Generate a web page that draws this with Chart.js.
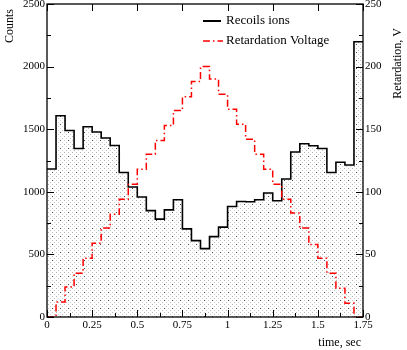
<!DOCTYPE html>
<html>
<head>
<meta charset="utf-8">
<script src="https://cdn.jsdelivr.net/npm/chart.js@4"></script>
<style>
html, body { margin: 0; padding: 0; background: #fff; }
#wrap { width: 407px; height: 350px; }
</style>
</head>
<body>
<div id="wrap"><canvas id="chart"></canvas></div>
<script>
// bin edges (sec), 0.05 s bins
const binEdges = [0, 0.05, 0.1, 0.15, 0.2, 0.25, 0.3, 0.35, 0.4, 0.45, 0.5, 0.55, 0.6, 0.65, 0.7,
  0.75, 0.8, 0.85, 0.9, 0.95, 1, 1.05, 1.1, 1.15, 1.2, 1.25, 1.3, 1.35, 1.4, 1.45, 1.5, 1.55,
  1.6, 1.65, 1.7, 1.75];
// one value per bin
const recoilCounts = [1182, 1608, 1490, 1346, 1520, 1478, 1430, 1370, 1154, 1038, 958, 850, 782,
  856, 936, 704, 610, 546, 642, 718, 882, 922, 920, 936, 990, 928, 1102, 1318, 1384, 1368, 1346,
  1154, 1236, 1214, 2198];
const retardVolts = [0, 12, 24, 35, 47, 59, 71, 82, 94, 106, 118, 130, 141, 153, 165, 176, 188,
  200, 190, 178, 166, 154, 142, 130, 118, 106, 94, 83, 71, 58, 47, 35, 23, 11, 0];

const xTickLabels = ['0', '0.25', '0.5', '0.75', '1', '1.25', '1.5', '1.75'];
const countTickLabels = ['0', '500', '1000', '1500', '2000', '2500'];
const voltTickLabels = ['0', '50', '100', '150', '200', '250'];

const seriesNames = ['Recoils ions', 'Retardation Voltage'];

// step points: value of bin i held from edge i to edge i+1
function stepPoints(values) {
  const pts = values.map((v, i) => ({ x: binEdges[i], y: v }));
  pts.push({ x: binEdges[values.length], y: values[values.length - 1] });
  return pts;
}

// dotted fill
function dotPattern() {
  const c = document.createElement('canvas');
  c.width = 8; c.height = 8;
  const g = c.getContext('2d');
  g.fillStyle = '#fff';
  g.fillRect(0, 0, 8, 8);
  const dots = [[0, 0, '#b4b4b4'], [4, 0, '#c8c8c8'], [2, 2, '#d2d2d2'], [6, 2, '#bcbcbc'],
    [0, 4, '#c8c8c8'], [4, 4, '#444'], [2, 6, '#bcbcbc'], [6, 6, '#d2d2d2']];
  dots.forEach(d => { g.fillStyle = d[2]; g.fillRect(d[0], d[1], 1, 1); });
  return g.createPattern(c, 'repeat');
}

const SERIF = 'Liberation Serif';
const tickFont = { family: SERIF, size: 11 };

const frameAndTicks = {
  id: 'frameAndTicks',
  afterDatasetsDraw(chart) {
    const { ctx, chartArea: a, scales } = chart;
    ctx.save();
    ctx.strokeStyle = '#000';
    ctx.lineWidth = 1;
    const line = (x1, y1, x2, y2) => {
      ctx.beginPath(); ctx.moveTo(x1, y1); ctx.lineTo(x2, y2); ctx.stroke();
    };
    const split = (scale) => {
      const vals = scale.ticks.map(t => t.value);
      const minors = [];
      for (let i = 0; i < vals.length - 1; i++) minors.push((vals[i] + vals[i + 1]) / 2);
      return { vals, minors };
    };
    let s = split(scales.x);
    s.vals.forEach(v => {
      const p = Math.round(scales.x.getPixelForValue(v)) + 0.5;
      line(p, a.bottom, p, a.bottom - 7);
      line(p, a.top, p, a.top + 7);
    });
    s.minors.forEach(v => {
      const p = Math.round(scales.x.getPixelForValue(v)) + 0.5;
      line(p, a.bottom, p, a.bottom - 4);
    });
    s = split(scales.y);
    s.vals.forEach(v => {
      const p = Math.round(scales.y.getPixelForValue(v)) + 0.5;
      line(a.left, p, a.left + 7, p);
    });
    s.minors.forEach(v => {
      const p = Math.round(scales.y.getPixelForValue(v)) + 0.5;
      line(a.left, p, a.left + 4, p);
    });
    s = split(scales.y2);
    s.vals.forEach(v => {
      const p = Math.round(scales.y2.getPixelForValue(v)) + 0.5;
      line(a.right, p, a.right - 7, p);
    });
    s.minors.forEach(v => {
      const p = Math.round(scales.y2.getPixelForValue(v)) + 0.5;
      line(a.right, p, a.right - 4, p);
    });
    ctx.lineWidth = 1.3;
    ctx.strokeRect(a.left, a.top, a.right - a.left, a.bottom - a.top);
    ctx.restore();
  },
  afterDraw(chart) {
    const { ctx } = chart;
    ctx.save();
    ctx.fillStyle = '#000';
    // legend
    ctx.font = '13px "' + SERIF + '"';
    ctx.textBaseline = 'middle';
    ctx.textAlign = 'left';
    ctx.fillText(seriesNames[0], 226, 21);
    ctx.fillText(seriesNames[1], 226, 41);
    ctx.strokeStyle = '#000';
    ctx.lineWidth = 2;
    ctx.beginPath(); ctx.moveTo(203, 21); ctx.lineTo(221, 21); ctx.stroke();
    ctx.strokeStyle = '#ff0000';
    ctx.lineWidth = 1.5;
    ctx.setLineDash([7, 3, 1.5, 3]);
    ctx.beginPath(); ctx.moveTo(203, 41); ctx.lineTo(223, 41); ctx.stroke();
    ctx.setLineDash([]);
    // axis titles
    ctx.font = '12px "' + SERIF + '"';
    ctx.textAlign = 'right';
    ctx.save();
    ctx.translate(10, 9);
    ctx.rotate(-Math.PI / 2);
    ctx.fillText('Counts', 0, 0);
    ctx.restore();
    ctx.save();
    ctx.translate(398, 28);
    ctx.rotate(-Math.PI / 2);
    ctx.fillText('Retardation, V', 0, 0);
    ctx.restore();
    ctx.fillText('time, sec', 361, 343);
    ctx.restore();
  }
};

new Chart(document.getElementById('chart'), {
  type: 'line',
  data: {
    datasets: [{
      label: seriesNames[0],
      data: stepPoints(recoilCounts),
      yAxisID: 'y',
      stepped: 'before',
      borderColor: '#000',
      borderWidth: 1.6,
      backgroundColor: dotPattern(),
      fill: 'origin',
      pointRadius: 0,
      order: 1
    }, {
      label: seriesNames[1],
      data: stepPoints(retardVolts),
      yAxisID: 'y2',
      stepped: 'before',
      borderColor: '#ff0000',
      borderWidth: 1.5,
      borderDash: [7, 3, 1.5, 3],
      fill: false,
      pointRadius: 0,
      order: 0
    }]
  },
  options: {
    responsive: true,
    maintainAspectRatio: false,
    devicePixelRatio: 1,
    animation: false,
    layout: { padding: { top: 4, left: 0, right: 0, bottom: 0 } },
    plugins: { legend: { display: false }, tooltip: { enabled: false } },
    scales: {
      x: {
        type: 'linear', min: 0, max: 1.75,
        grid: { display: false, drawTicks: false }, border: { display: false },
        ticks: { stepSize: 0.25, autoSkip: false, maxRotation: 0, padding: 2, color: '#000',
          font: tickFont, callback: (v, i) => xTickLabels[i] },
        afterFit: s => { s.height = 33; s.paddingLeft = 0; s.paddingRight = 0; }
      },
      y: {
        position: 'left', min: 0, max: 2500,
        grid: { display: false, drawTicks: false }, border: { display: false },
        ticks: { stepSize: 500, padding: 2, color: '#000', font: tickFont,
          callback: (v, i) => countTickLabels[i] },
        afterFit: s => { s.width = 47; s.paddingTop = 0; s.paddingBottom = 0; }
      },
      y2: {
        position: 'right', min: 0, max: 250,
        grid: { display: false, drawTicks: false }, border: { display: false },
        ticks: { stepSize: 50, padding: 2, color: '#000', font: tickFont,
          callback: (v, i) => voltTickLabels[i] },
        afterFit: s => { s.width = 44; s.paddingTop = 0; s.paddingBottom = 0; }
      }
    }
  },
  plugins: [frameAndTicks]
});
</script>
</body>
</html>
